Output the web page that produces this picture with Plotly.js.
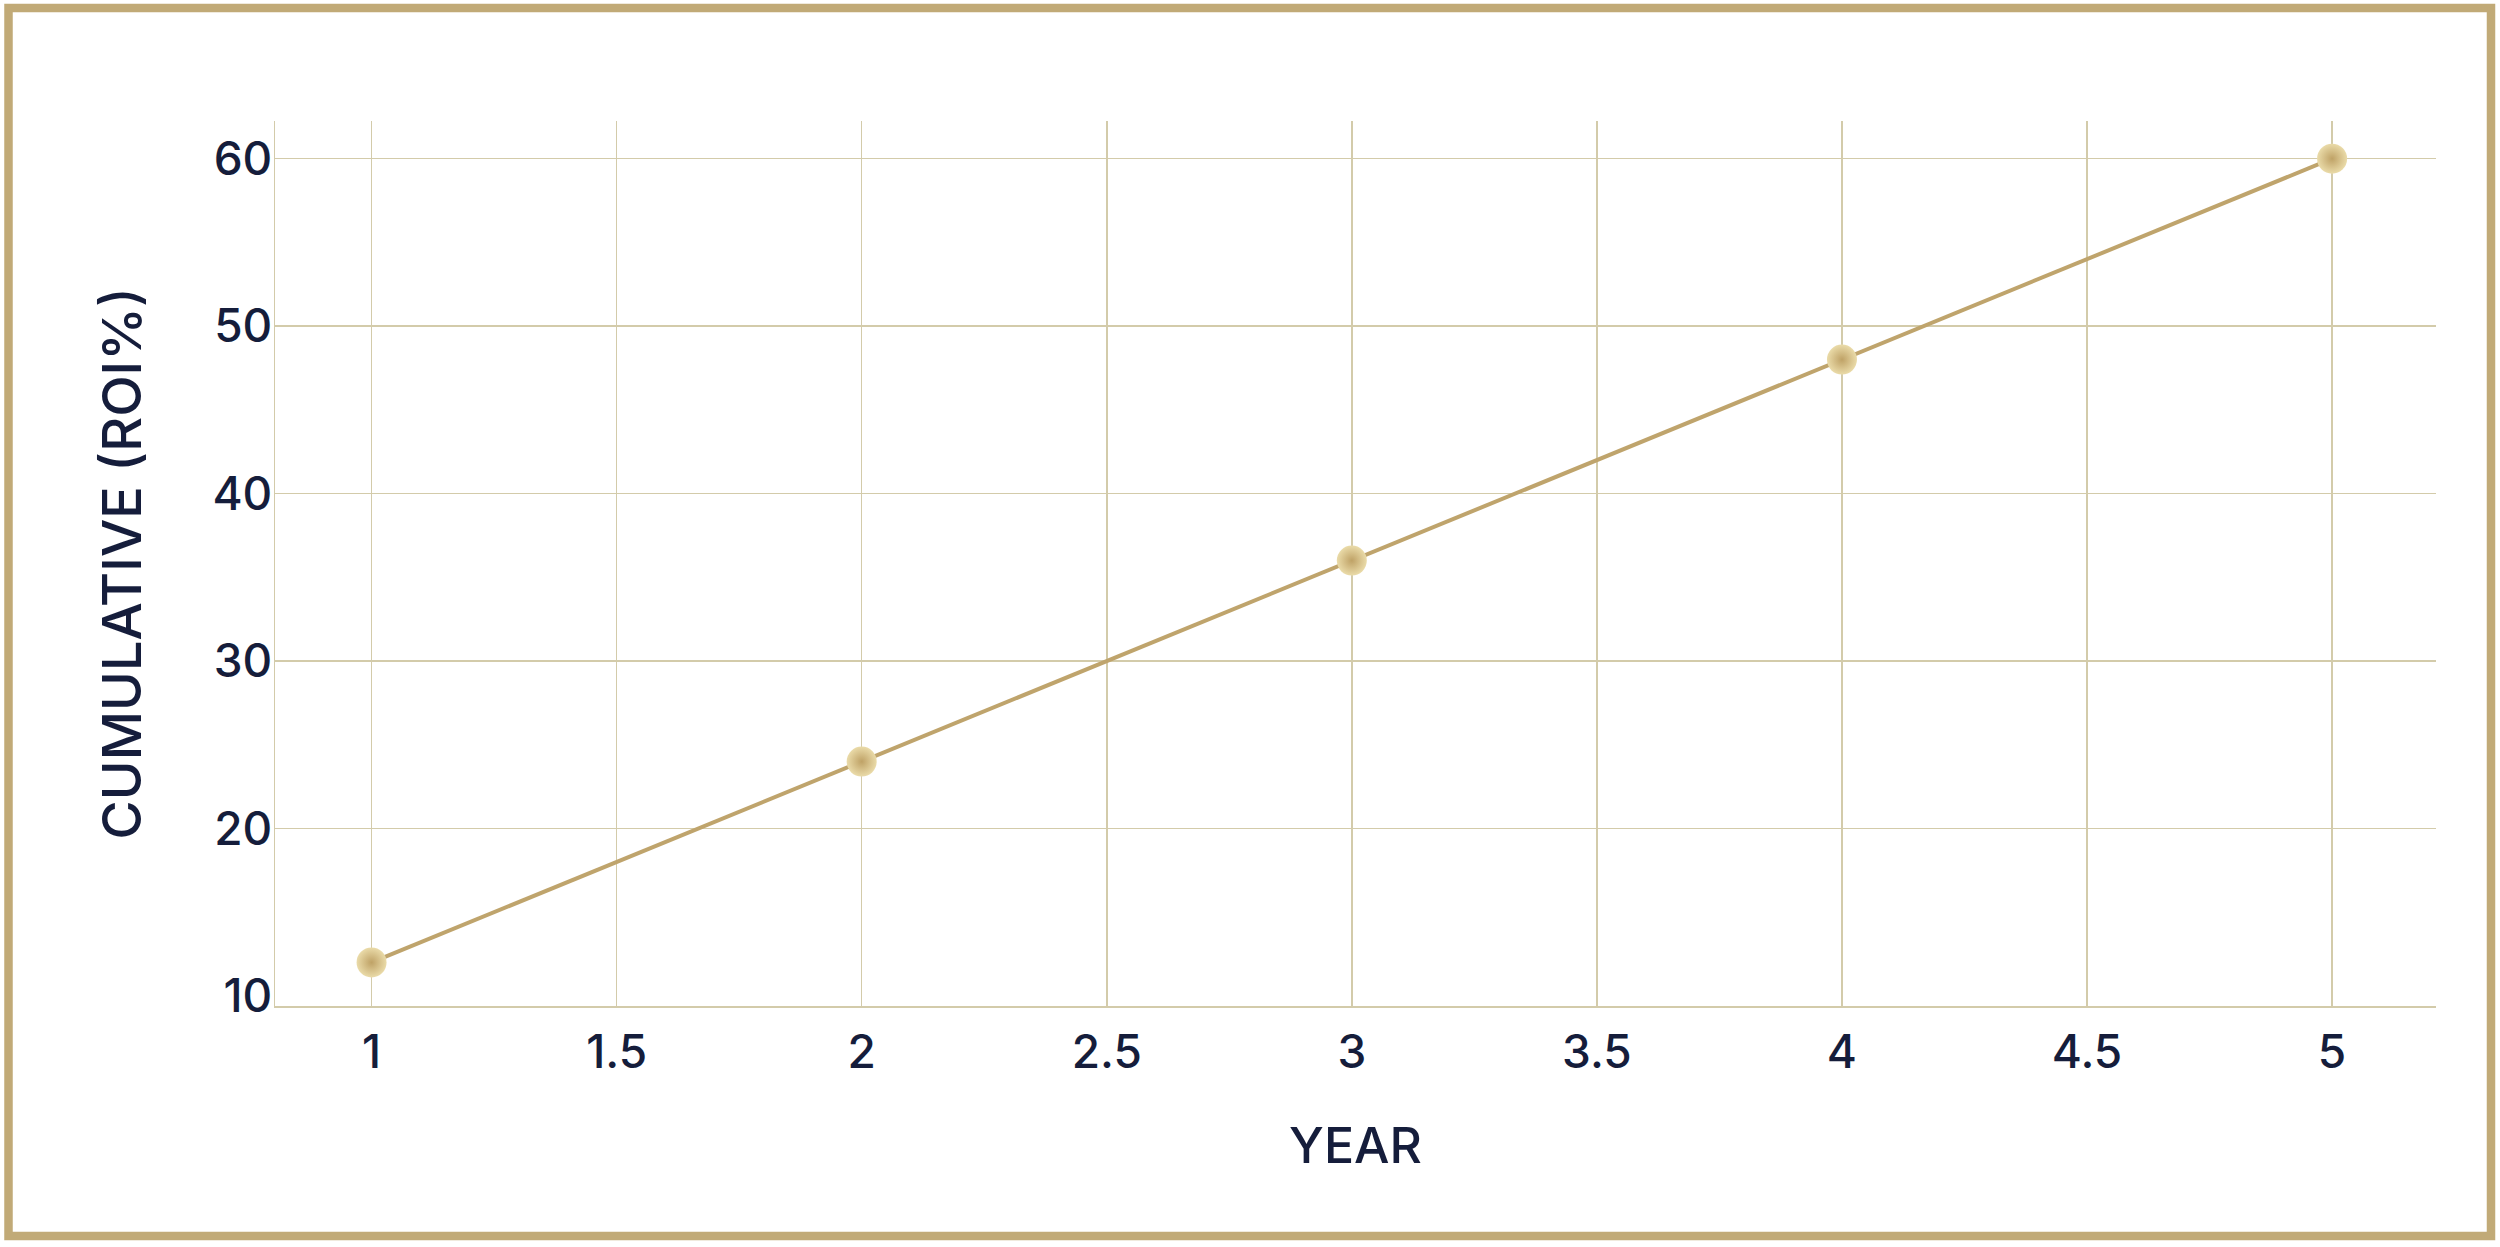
<!DOCTYPE html>
<html>
<head>
<meta charset="utf-8">
<script src="https://cdn.plot.ly/plotly-3.0.1.min.js"></script>
<style>
  html, body { margin: 0; padding: 0; background: #ffffff; }
  #chart { width: 2500px; height: 1247px; }
</style>
</head>
<body>
<div id="chart"></div>
<script>
// ---- data ----
const years = [1, 2, 3, 4, 5];
const cumulativeROI = [12, 24, 36, 48, 60];
const yTickVals = [10, 20, 30, 40, 50, 60];
const yGridVals = [20, 30, 40, 50, 60];
const xTitle = 'YEAR';
const yTitle = 'CUMULATIVE (ROI%)';

// ---- styles ----
const GOLD_LINE = '#BFA46C';
const GRID = '#D3CBAA';
const TEXT = '#151D3B';
const BORDER = '#C1AA77';
const FONT = 'Inter, "Noto Sans", sans-serif';

const W = 2500, H = 1247;
const M = { l: 275, r: 64, t: 121, b: 241 };
const pw = W - M.l - M.r, ph = H - M.t - M.b;
const px = v => (v - M.l) / pw;
const py = v => (H - M.b - v) / ph;

const X_RANGE = [0.803, 5.212];
const Y_RANGE = [9.40, 62.25];

const trace = {
  x: years,
  y: cumulativeROI,
  type: 'scatter',
  mode: 'lines+markers',
  line: { color: GOLD_LINE, width: 4 },
  marker: {
    size: 30,
    color: '#EADBA9',
    gradient: { type: 'radial', color: '#BFA266' },
    line: { width: 0 }
  },
  hoverinfo: 'x+y',
  showlegend: false
};

// invisible helper trace on the overlay axis so the grid axis is drawn
const gridTrace = {
  x: [years[0]],
  y: [cumulativeROI[0]],
  xaxis: 'x',
  yaxis: 'y2',
  type: 'scatter',
  mode: 'markers',
  marker: { size: 0, opacity: 0 },
  hoverinfo: 'skip',
  showlegend: false
};

const layout = {
  width: W,
  height: H,
  margin: M,
  paper_bgcolor: '#ffffff',
  plot_bgcolor: '#ffffff',
  font: { family: FONT, color: TEXT, size: 46, weight: 500 },
  xaxis: {
    range: X_RANGE,
    dtick: 0.5,
    tick0: 1,
    showgrid: true,
    gridcolor: GRID,
    gridwidth: 1.5,
    zeroline: false,
    showline: true,
    linecolor: GRID,
    linewidth: 1.5,
    ticks: '',
    ticklabelstandoff: 5,
    tickfont: { family: FONT, size: 46, color: TEXT, weight: 500 },
    title: { text: xTitle, font: { family: FONT, size: 50, color: TEXT, weight: 500 }, standoff: 50 },
    automargin: false
  },
  yaxis: {
    range: Y_RANGE,
    tickmode: 'array',
    tickvals: yTickVals,
    showgrid: false,
    zeroline: false,
    showline: true,
    linecolor: GRID,
    linewidth: 1.5,
    ticks: '',
    ticklabelstandoff: -8,
    tickfont: { family: FONT, size: 46, color: TEXT, weight: 500 },
    title: { text: yTitle, font: { family: FONT, size: 54, color: TEXT, weight: 500 }, standoff: 53 },
    automargin: false
  },
  yaxis2: {
    range: Y_RANGE,
    overlaying: 'y',
    tickmode: 'array',
    tickvals: yGridVals,
    showgrid: true,
    gridcolor: GRID,
    gridwidth: 1.5,
    zeroline: false,
    showline: false,
    showticklabels: false,
    ticks: '',
    layer: 'below traces'
  },
  shapes: [{
    type: 'rect',
    xref: 'paper', yref: 'paper',
    x0: px(8.5), x1: px(2491),
    y0: py(1236), y1: py(8),
    line: { color: BORDER, width: 8.5 },
    fillcolor: 'rgba(0,0,0,0)',
    layer: 'above'
  }]
};

Plotly.newPlot('chart', [gridTrace, trace], layout, { displayModeBar: false, staticPlot: true });
</script>
</body>
</html>
